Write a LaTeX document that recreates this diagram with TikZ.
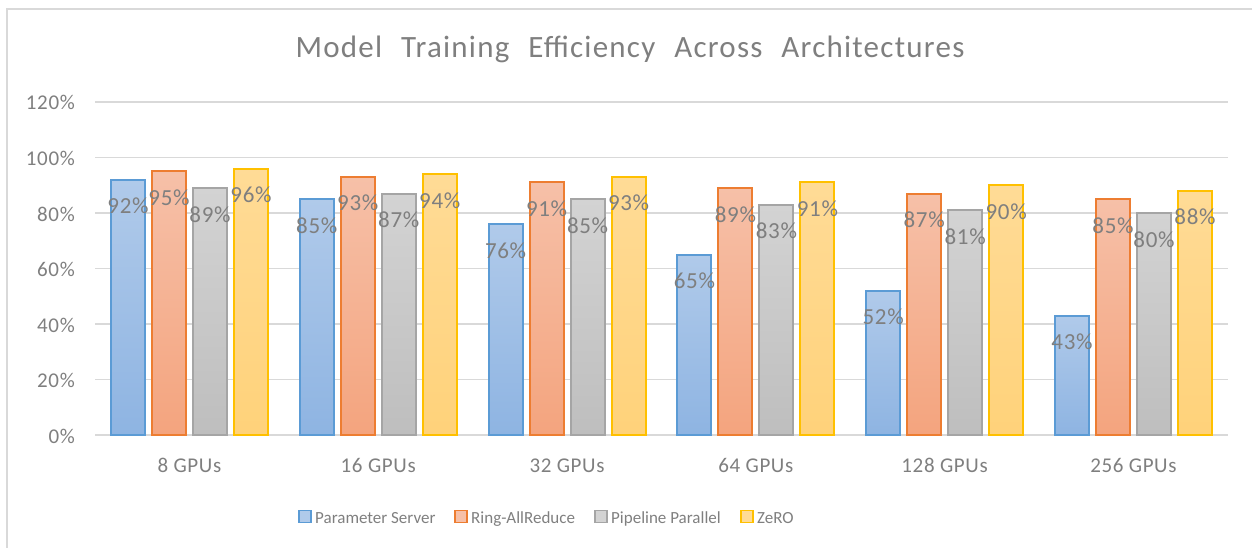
\documentclass[tikz,border=0pt]{standalone}
\usepackage{fontspec}
\setmainfont{Carlito}
\newfontfamily\titlefont[LetterSpace=4,WordSpace=2.3]{Carlito}
\newfontfamily\labfont[LetterSpace=3]{Carlito}
\usetikzlibrary{positioning}
\definecolor{gridgray}{HTML}{D9D9D9}
\definecolor{labgray}{HTML}{7F7F7F}
\definecolor{psline}{HTML}{5B9BD5}
\definecolor{pstop}{HTML}{B0CAEA}
\definecolor{psbot}{HTML}{8EB4E2}
\definecolor{raline}{HTML}{ED7D31}
\definecolor{ratop}{HTML}{F6C0A8}
\definecolor{rabot}{HTML}{F4A47E}
\definecolor{ppline}{HTML}{A5A5A5}
\definecolor{pptop}{HTML}{D3D3D3}
\definecolor{ppbot}{HTML}{BEBEBE}
\definecolor{zrline}{HTML}{FFC000}
\definecolor{zrtop}{HTML}{FFDB96}
\definecolor{zrbot}{HTML}{FFD27A}
\begin{document}
\begin{tikzpicture}[x=1pt,y=-1pt]
\tikzset{gridline/.style={draw=gridgray, line width=1.5pt},
  frameline/.style={draw=gridgray, line width=2pt},
  bar/.style={draw=#1line, top color=#1top, bottom color=#1bot, line width=2pt},
  legbox/.style={draw=#1line, fill=#1top, line width=1.5pt},
  ticklab/.style={anchor=base east, text=labgray, inner sep=0pt, font=\labfont\fontsize{21}{21}\selectfont},
  vallab/.style={anchor=base, text=labgray, inner sep=0pt, font=\labfont\fontsize{23}{23}\selectfont},
  catlab/.style={anchor=base, text=labgray, inner sep=0pt, font=\labfont\fontsize{21}{21}\selectfont},
  leglab/.style={anchor=base west, text=labgray, inner sep=0pt, font=\fontsize{17}{17}\selectfont},
  titlelab/.style={anchor=base, text=labgray, inner sep=0pt, font=\titlefont\fontsize{31}{31}\selectfont}}
\useasboundingbox (0,0) rectangle (1252,548);
\draw[frameline] (7,548) -- (7,9) -- (1252,9);
\node[titlelab] (title) at (630,58) {Model Training Efficiency Across Architectures};
% grid and axis
\foreach \k in {0,...,6} {
  \draw[gridline] (95,{435-55.5*\k}) -- (1228,{435-55.5*\k});
  \pgfmathtruncatemacro\pct{20*\k}
  \node[ticklab] (tick\k) at (75,{443-55.5*\k}) {\pct\%};
}
% bars
\foreach \s/\vals [count=\j from 0] in {ps/{92,85,76,65,52,43}, ra/{95,93,91,89,87,85}, pp/{89,87,85,83,81,80}, zr/{96,94,93,91,90,88}} {
  \foreach \v [count=\i from 0] in \vals {
    \pgfmathsetmacro\xl{111+188.8*\i+41*\j}
    \draw[bar=\s] (\xl,435) rectangle ++(34,{-2.775*\v});
  }
}
\foreach \s/\vals [count=\j from 0] in {ps/{92,85,76,65,52,43}, ra/{95,93,91,89,87,85}, pp/{89,87,85,83,81,80}, zr/{96,94,93,91,90,88}} {
  \foreach \v [count=\i from 0] in \vals {
    \pgfmathsetmacro\xl{111+188.8*\i+41*\j}
    \node[vallab] (val\s\i) at ({\xl+17},{469-2.775*\v}) {\v\%};
  }
}
\foreach \c [count=\i from 0] in {8,16,32,64,128,256}
  \node[catlab] (cat\i) at ({189.4+188.8*\i},472) {\c\ GPUs};
% legend
\foreach \s/\name/\x in {ps/Parameter Server/299, ra/Ring-AllReduce/455, pp/Pipeline Parallel/595, zr/ZeRO/741} {
  \draw[legbox=\s] (\x,510.5) rectangle ++(12,12);
  \node[leglab] (leg\s) at ({\x+16},523) {\name};
}
\end{tikzpicture}
\end{document}
